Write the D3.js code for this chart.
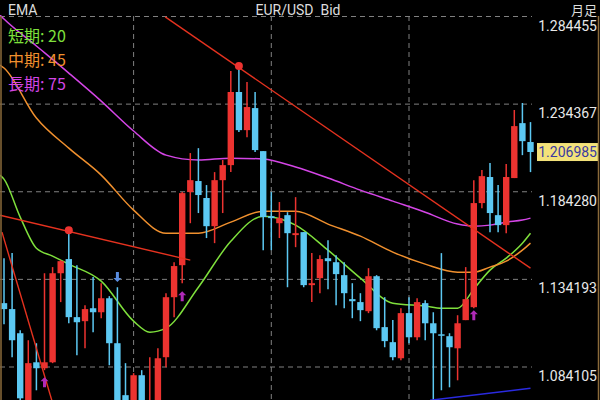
<!DOCTYPE html>
<html><head><meta charset="utf-8">
<script src="https://cdn.jsdelivr.net/npm/d3@7"></script>
<style>body{margin:0;background:#000;overflow:hidden}svg{display:block}</style>
</head><body><div id="chart"></div>
<script>
// monthly EUR/USD bid candles (left to right)
const opens  = [1.1206,1.1172,1.1034,1.0622,1.0868,1.0834,1.0868,1.1377,1.1458,1.1126,1.1103,1.1177,1.1154,1.1234,1.0977,1.0680,1.0565,1.0794,1.0594,1.0622,1.0897,1.1240,1.1423,1.1841,1.1904,1.1807,1.1646,1.1909,1.1995,1.2413,1.2195,1.2321,1.2075,1.1703,1.1663,1.1709,1.1595,1.1612,1.1309,1.1349,1.1463,1.1440,1.1366,1.1229,1.1212,1.1160,1.1360,1.1069,1.0983,1.0891,1.1149,1.1011,1.1206,1.1091,1.1028,1.1017,1.0948,1.1109,1.1183,1.1778,1.1927,1.1709,1.1652,1.1921,1.2235,1.2127];
const highs  = [1.1463,1.1492,1.1051,1.0994,1.0977,1.1377,1.1412,1.1452,1.1623,1.1423,1.1194,1.1355,1.1320,1.1246,1.1297,1.0863,1.0806,1.0823,1.0897,1.0948,1.1263,1.1440,1.1841,1.2064,1.2092,1.1881,1.1955,1.2024,1.2533,1.2561,1.2470,1.2413,1.2075,1.1841,1.1784,1.1726,1.1812,1.1612,1.1492,1.1480,1.1566,1.1480,1.1440,1.1320,1.1263,1.1406,1.1366,1.1240,1.1109,1.1177,1.1240,1.1234,1.1223,1.1154,1.1492,1.1034,1.1137,1.1412,1.1909,1.1967,1.2007,1.1881,1.2001,1.2310,1.2350,1.2241];
const lows   = [1.1086,1.0897,1.0622,1.0594,1.0708,1.0823,1.0863,1.1212,1.1091,1.0908,1.0948,1.1040,1.1120,1.0851,1.0594,1.0537,1.0537,1.0565,1.0565,1.0594,1.0840,1.1126,1.1320,1.1663,1.1721,1.1578,1.1549,1.1721,1.1955,1.2184,1.2155,1.2070,1.1509,1.1509,1.1578,1.1297,1.1526,1.1297,1.1212,1.1263,1.1286,1.1194,1.1177,1.1120,1.1103,1.1149,1.1051,1.0954,1.0880,1.0880,1.0977,1.0994,1.0994,1.0651,1.0708,1.0725,1.0765,1.1109,1.1177,1.1749,1.1612,1.1612,1.1606,1.1921,1.2052,1.1955];
const closes = [1.1172,1.0994,1.0662,1.0863,1.0834,1.0868,1.1377,1.1446,1.1126,1.1097,1.1172,1.1154,1.1234,1.0977,1.0622,1.0565,1.0794,1.0594,1.0651,1.0891,1.1240,1.1418,1.1835,1.1909,1.1824,1.1646,1.1909,1.1995,1.2413,1.2195,1.2327,1.2081,1.1698,1.1692,1.1692,1.1606,1.1606,1.1309,1.1320,1.1458,1.1446,1.1372,1.1263,1.1217,1.1166,1.1360,1.1063,1.0989,1.0897,1.1149,1.1011,1.1212,1.1091,1.1034,1.1023,1.0954,1.1091,1.1229,1.1778,1.1932,1.1721,1.1652,1.1927,1.2218,1.2132,1.2070];

// EMA samples: candle index, value
const emaIdx   = [-0.5,0,2,4,6,8,12,16,18,20,24,28,32,36,40,44,48,52,54,56,58,60,62,64,65];
const emaShort = [1.1938,1.1915,1.1698,1.1520,1.1475,1.1429,1.1332,1.1103,1.1040,1.1063,1.1297,1.1560,1.1703,1.1652,1.1509,1.1349,1.1206,1.1189,1.1177,1.1177,1.1286,1.1395,1.1463,1.1549,1.1606];
const emaMidIdx = [-0.5,0,4,8,12,16,20,24,28,32,36,40,44,48,52,56,58,60,62,64,65];
const emaMid   = [1.2567,1.2550,1.2264,1.2092,1.1938,1.1738,1.1606,1.1606,1.1669,1.1732,1.1732,1.1658,1.1589,1.1498,1.1429,1.1383,1.1383,1.1412,1.1446,1.1509,1.1549];
const emaLong  = [1.2853,1.2830,1.2676,1.2521,1.2361,1.2190,1.2052,1.2024,1.2035,1.2030,1.1984,1.1921,1.1852,1.1789,1.1726,1.1658,1.1646,1.1652,1.1669,1.1681,1.1692];

const priceTicks = [1.284455,1.234367,1.184280,1.134193,1.084105];
const timeGrid = [16,33,50];
const lastPrice = 1.206985;

// trend lines [[idx, price],[idx, price]]
const redLines = [[[19.9,1.2842],[65,1.1406]],[[-0.5,1.1709],[23,1.1452]],[[-0.25,1.1612],[5.9,1.0651]]];
const blueLines = [[[52.6,1.0651],[65,1.0720]]];
const dots = [[29,1.2561],[8,1.1623]];
const upArrows = [[5,1.0754],[22,1.1246],[58,1.1137]];
const downArrows = [[14,1.1355]];

const W = 600, H = 400, plotR = 532;
const svg = d3.select("#chart").append("svg").attr("width", W).attr("height", H);
svg.append("rect").attr("width", W).attr("height", H).attr("fill", "#000");

const x = d3.scaleLinear().domain([0, 65]).range([4, 530.5]);
const y = d3.scaleLinear().domain([1.284455, 1.084105]).range([16.5, 367]);

const clip = svg.append("clipPath").attr("id", "pc").append("rect")
  .attr("x", 0).attr("y", 15).attr("width", plotR + 2).attr("height", H - 15);

// grid
svg.append("g").selectAll("line").data(priceTicks).join("line")
  .attr("x1", 0).attr("x2", plotR).attr("y1", d => y(d)).attr("y2", d => y(d))
  .attr("stroke", "#808080").attr("stroke-dasharray", "5,4");
svg.append("g").selectAll("line").data(timeGrid).join("line")
  .attr("x1", d => x(d)).attr("x2", d => x(d)).attr("y1", 16).attr("y2", H)
  .attr("stroke", "#808080").attr("stroke-dasharray", "5,4");

const plot = svg.append("g").attr("clip-path", "url(#pc)");

const line = d3.line().curve(d3.curveMonotoneX);
[[emaIdx, emaShort, "#7fe03c"], [emaMidIdx, emaMid, "#f0902e"], [emaMidIdx, emaLong, "#d445e6"]].forEach(([ix, v, c]) => {
  plot.append("path").attr("d", line(ix.map((d, i) => [x(d), y(v[i])])))
    .attr("fill", "none").attr("stroke", c).attr("stroke-width", 1.5);
});

// candles
const candles = d3.range(opens.length);
const g = plot.selectAll("g.c").data(candles).join("g").attr("class", "c");
const col = i => closes[i] >= opens[i] ? "#ec3330" : "#5cc8f2";
g.append("line").attr("x1", i => x(i)).attr("x2", i => x(i))
  .attr("y1", i => y(highs[i])).attr("y2", i => y(lows[i]))
  .attr("stroke", col).attr("stroke-width", 1.5);
g.append("rect").attr("x", i => x(i) - 3.2).attr("width", 6.4)
  .attr("y", i => y(Math.max(opens[i], closes[i])))
  .attr("height", i => Math.max(1.5, Math.abs(y(opens[i]) - y(closes[i]))))
  .attr("fill", col);

// trend lines
redLines.forEach(l => plot.append("line")
  .attr("x1", x(l[0][0])).attr("y1", y(l[0][1])).attr("x2", x(l[1][0])).attr("y2", y(l[1][1]))
  .attr("stroke", "#e5321f").attr("stroke-width", 1.4));
blueLines.forEach(l => plot.append("line")
  .attr("x1", x(l[0][0])).attr("y1", y(l[0][1])).attr("x2", x(l[1][0])).attr("y2", y(l[1][1]))
  .attr("stroke", "#2a2ae0").attr("stroke-width", 1.5));
plot.selectAll("circle").data(dots).join("circle")
  .attr("cx", d => x(d[0])).attr("cy", d => y(d[1])).attr("r", 4).attr("fill", "#ec3330");

const arrow = "M0,-5 L4,-1 L1.5,-1 L1.5,5 L-1.5,5 L-1.5,-1 L-4,-1 Z";
plot.selectAll("path.up").data(upArrows).join("path").attr("class", "up")
  .attr("d", arrow).attr("transform", d => `translate(${x(d[0])},${y(d[1])})`).attr("fill", "#b02ab8");
plot.selectAll("path.dn").data(downArrows).join("path").attr("class", "dn")
  .attr("d", arrow).attr("transform", d => `translate(${x(d[0])},${y(d[1])}) rotate(180)`).attr("fill", "#5a8de0");

// right axis labels
svg.append("g").selectAll("text").data(priceTicks).join("text")
  .attr("x", 597).attr("y", d => y(d) + 14).attr("text-anchor", "end")
  .attr("font-family", "Roboto, sans-serif").attr("font-size", 14).attr("fill", "#e8e8e8")
  .text(d => d.toFixed(6));
svg.append("rect").attr("x", 537).attr("y", y(lastPrice) - 9).attr("width", 62).attr("height", 18).attr("fill", "#f3e27a");
svg.append("text").attr("x", 597).attr("y", y(lastPrice) + 5).attr("text-anchor", "end")
  .attr("font-family", "Roboto, sans-serif").attr("font-size", 14).attr("fill", "#3a3aa0").text(lastPrice.toFixed(6));

// header and legend
const hdr = svg.append("g").attr("font-family", "Roboto, 'Noto Sans CJK JP', sans-serif").attr("font-size", 14).attr("fill", "#ddd");
hdr.append("text").attr("x", 8).attr("y", 15).text("EMA");
hdr.append("text").attr("x", 298).attr("y", 15).attr("text-anchor", "middle").text("EUR/USD\u00a0\u00a0Bid");
hdr.append("text").attr("x", 597).attr("y", 15).attr("text-anchor", "end").attr("font-family", "'Noto Sans CJK JP', sans-serif").attr("font-size", 13).text("月足");
const legend = [["短期: 20", "#7fe03c"], ["中期: 45", "#f0902e"], ["長期: 75", "#d445e6"]];
svg.append("g").selectAll("text").data(legend).join("text")
  .attr("x", 8).attr("y", (d, i) => 42 + i * 24)
  .attr("font-family", "'Noto Sans CJK JP', sans-serif").attr("font-size", 16)
  .attr("fill", d => d[1]).text(d => d[0]);

// borders
svg.append("line").attr("x1", 1).attr("x2", 1).attr("y1", 16).attr("y2", H).attr("stroke", "#8a6a3a").attr("stroke-width", 1.5);
svg.append("line").attr("x1", 598.5).attr("x2", 598.5).attr("y1", 16).attr("y2", H).attr("stroke", "#8a6a3a").attr("stroke-width", 1.5);
</script></body></html>
